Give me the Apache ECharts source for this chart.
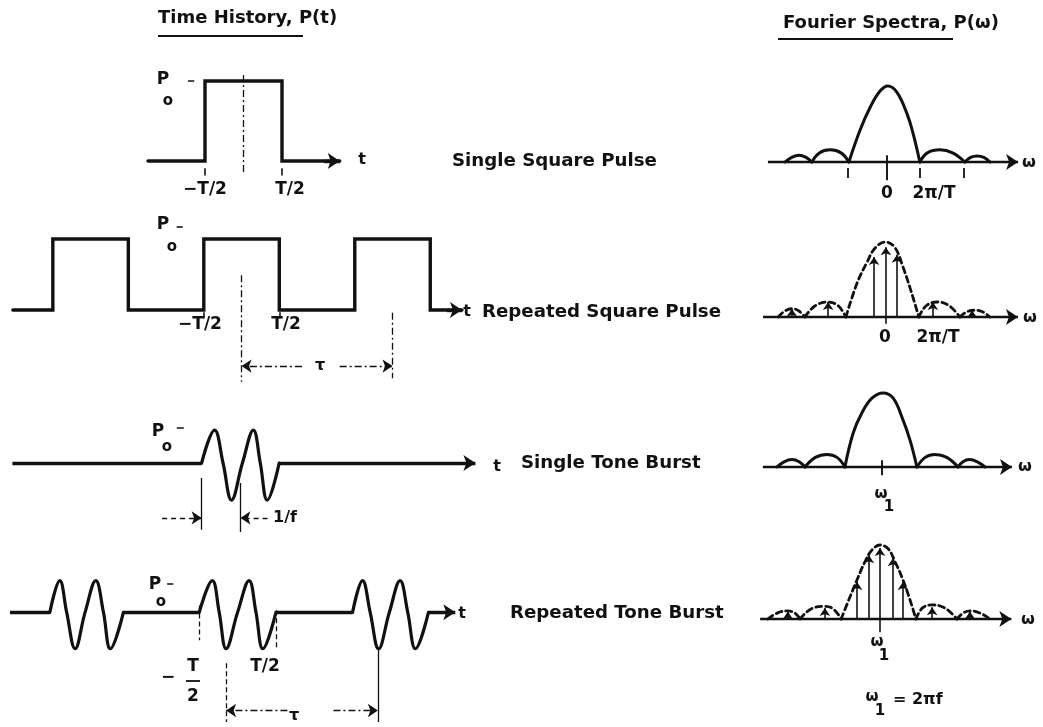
<!DOCTYPE html>
<html><head><meta charset="utf-8">
<script src="https://cdn.jsdelivr.net/npm/echarts@6/dist/echarts.min.js"></script>
<style>html,body{margin:0;padding:0;background:#fff}#c{width:1043px;height:727px}</style>
</head><body><div id="c"></div>
<script>
// ================= DATA =================
// Labels
const panelTitles = ['Time History, P(t)', 'Fourier Spectra, P(\u03c9)'];
const rowNames = ['Single Square Pulse', 'Repeated Square Pulse', 'Single Tone Burst', 'Repeated Tone Burst'];
const timeTickLabels = ['\u2212T/2', 'T/2'];
const freqTickLabels = ['0', '2\u03c0/T'];

// Time histories: t in units of T, amplitude in units of Po
const singlePulse = [[-1.24,0],[-0.5,0],[-0.5,1],[0.5,1],[0.5,0],[1.25,0]];
const pulseEdges = [-0.5, 0.5];
const repeatedPulse = [[-3.03,0],[-2.5,0],[-2.5,1],[-1.5,1],[-1.5,0],[-0.5,0],[-0.5,1],[0.5,1],[0.5,0],[1.5,0],[1.5,1],[2.5,1],[2.5,0],[2.92,0]];
const repeatedPulsePeriod = 2.0;
const singleBurst = [[-0.5,0],[-0.333,0.94],[-0.224,0],[-0.115,-1.06],[0.026,0],[0.167,0.94],[0.256,0],[0.346,-1.06],[0.5,0]];
const singleBurstBaseline = [[-2.94,-0.5],[0.5,3.03]];
const burstCycle = 0.5; // 1/f in units of T
const repeatedBursts = [
  [[-2.45,0],[-2.32,0.94],[-2.23,0],[-2.12,-1.08],[-1.99,0],[-1.85,0.94],[-1.75,0],[-1.66,-1.08],[-1.49,0]],
  [[-0.5,0],[-0.33,0.94],[-0.24,0],[-0.15,-1.08],[0,0],[0.15,0.94],[0.24,0],[0.33,-1.08],[0.5,0]],
  [[1.5,0],[1.63,0.94],[1.73,0],[1.84,-1.08],[1.98,0],[2.12,0.94],[2.22,0],[2.32,-1.08],[2.49,0]]
];
const repeatedBurstBaseline = [[-2.97,-2.45],[-1.49,-0.5],[0.5,1.5],[2.49,2.84]];
const repeatedBurstPeriod = [-0.15, 1.83];

// Fourier spectra: omega in units of 2pi/T, amplitude normalised to the peak
const spec1Lobes = [
  [[-2.8,0],[-2.62,0.06],[-2.42,0.09],[-2.22,0.06],[-2.06,0]],
  [[-2.06,0],[-1.85,0.12],[-1.55,0.16],[-1.25,0.12],[-1.03,0]],
  [[-1.03,0],[-0.72,0.42],[-0.44,0.72],[-0.17,0.93],[0.05,1],[0.3,0.92],[0.58,0.64],[0.75,0.38],[0.94,0]],
  [[0.94,0],[1.15,0.12],[1.5,0.16],[1.85,0.12],[2.19,0]],
  [[2.19,0],[2.35,0.06],[2.53,0.08],[2.72,0.06],[2.89,0]]
];
const spec1Ticks = [-1.06, 0.94, 2.17];
const spec2Envelope = [
  [[-2.9,0],[-2.72,0.08],[-2.53,0.11],[-2.34,0.08],[-2.18,0]],
  [[-2.18,0],[-1.9,0.15],[-1.55,0.2],[-1.28,0.15],[-1.07,0]],
  [[-1.07,0],[-0.77,0.45],[-0.5,0.73],[-0.28,0.92],[0,1],[0.26,0.92],[0.47,0.67],[0.7,0.33],[0.9,0]],
  [[0.9,0],[1.1,0.15],[1.4,0.2],[1.72,0.15],[2.01,0]],
  [[2.01,0],[2.2,0.07],[2.4,0.09],[2.62,0.07],[2.82,0]]
];
const spec2Lines = [[-2.53,0.11],[-1.55,0.2],[-0.31,0.8],[0.01,0.93],[0.31,0.83],[1.28,0.2],[2.34,0.09]];
const spec3Lobes = [
  [[-2.92,0],[-2.72,0.07],[-2.5,0.1],[-2.3,0.07],[-2.14,0]],
  [[-2.14,0],[-1.85,0.13],[-1.53,0.17],[-1.25,0.13],[-1.03,0]],
  [[-1.03,0],[-0.8,0.46],[-0.56,0.73],[-0.28,0.93],[0.03,1],[0.31,0.93],[0.58,0.64],[0.78,0.36],[0.97,0]],
  [[0.97,0],[1.2,0.13],[1.47,0.17],[1.8,0.13],[2.11,0]],
  [[2.11,0],[2.25,0.07],[2.42,0.1],[2.65,0.07],[2.86,0]]
];
const spec4Envelope = [
  [[-3.03,0],[-2.78,0.08],[-2.49,0.11],[-2.3,0.08],[-2.16,0]],
  [[-2.16,0],[-1.85,0.14],[-1.49,0.17],[-1.25,0.13],[-1.05,0]],
  [[-1.05,0],[-0.81,0.3],[-0.62,0.53],[-0.41,0.77],[-0.22,0.93],[0,1],[0.22,0.95],[0.41,0.77],[0.62,0.53],[0.81,0.26],[0.97,0]],
  [[0.97,0],[1.15,0.15],[1.41,0.19],[1.75,0.15],[2.08,0]],
  [[2.08,0],[2.25,0.08],[2.43,0.11],[2.7,0.08],[2.97,0]]
];
const spec4Lines = [[-2.49,0.1],[-1.49,0.15],[-0.62,0.5],[-0.3,0.86],[0,0.96],[0.35,0.82],[0.62,0.5],[1.41,0.16],[2.43,0.1]];

// ================= DRAWING =================
const INK = '#111';
const FONT = '"DejaVu Sans", sans-serif';
const grids = [], xAxes = [], yAxes = [], series = [];
function addPanel(cx, sx, xr, by, sy, yr) {
  const i = grids.length;
  grids.push({left: cx + sx * xr[0], top: by - sy * yr[1], width: sx * (xr[1] - xr[0]), height: sy * (yr[1] - yr[0]), containLabel: false});
  xAxes.push({type: 'value', gridIndex: i, min: xr[0], max: xr[1], show: false});
  yAxes.push({type: 'value', gridIndex: i, min: yr[0], max: yr[1], show: false});
  return i;
}
function curve(g, data, o) {
  o = o || {};
  series.push({type: 'line', xAxisIndex: g, yAxisIndex: g, data: data, smooth: o.smooth || false,
    symbol: 'none', clip: false, silent: true, animation: false, z: 3,
    lineStyle: {color: INK, width: o.width || 3, type: o.type || 'solid', cap: 'round', join: o.join || 'round'}});
}
function segs(g, items, o) {
  o = o || {};
  series.push({type: 'lines', coordinateSystem: 'cartesian2d', xAxisIndex: g, yAxisIndex: g, silent: true, animation: false, z: 3,
    data: items, symbol: ['none', 'none'], symbolSize: o.symbolSize || [8, 11],
    lineStyle: {color: INK, width: o.width || 2, type: o.type || 'solid', opacity: 1, curveness: 0}});
}
const ARROW_END = ['none', 'arrow'];
const DASHDOT = [7, 3, 2, 3];

// Row 1 time history
const gA = addPanel(243.5, 77, [-3, 3.2], 161, 80, [-0.6, 1.3]);
curve(gA, singlePulse, {width: 3.4, join: 'miter'});
segs(gA, [{coords: [[singlePulse[singlePulse.length - 1][0] - 0.2, 0], [singlePulse[singlePulse.length - 1][0], 0]], symbol: ARROW_END}], {width: 3.4, symbolSize: [9, 12]});
segs(gA, [{coords: [[0, 1.075], [0, -0.15]]}], {width: 1.3, type: DASHDOT});
segs(gA, pulseEdges.map(x => ({coords: [[x, -0.09], [x, -0.18]]})), {width: 1.6});
segs(gA, [{coords: [[-0.72, 1], [-0.64, 1]]}], {width: 1.6});

// Row 2 time history
const gB = addPanel(241.5, 75.5, [-3.2, 3.2], 310, 71, [-1.2, 1.3]);
curve(gB, repeatedPulse, {width: 3.4, join: 'miter'});
segs(gB, [{coords: [[repeatedPulse[repeatedPulse.length - 1][0] - 0.2, 0], [repeatedPulse[repeatedPulse.length - 1][0], 0]], symbol: ARROW_END}], {width: 3.4, symbolSize: [9, 12]});
segs(gB, [{coords: [[0, 0.49], [0, -1.01]]}], {width: 1.3, type: DASHDOT});
segs(gB, [{coords: [[repeatedPulsePeriod, -0.04], [repeatedPulsePeriod, -0.96]]}], {width: 1.3, type: DASHDOT});
segs(gB, pulseEdges.map(x => ({coords: [[x, -0.03], [x, -0.12]]})), {width: 1.6});
segs(gB, [{coords: [[0.8, -0.79], [0, -0.79]], symbol: ARROW_END}, {coords: [[1.3, -0.79], [repeatedPulsePeriod, -0.79]], symbol: ARROW_END}], {width: 1.3, type: DASHDOT, symbolSize: [7, 10]});
segs(gB, [{coords: [[-0.86, 1.17], [-0.78, 1.17]]}], {width: 1.6});

// Row 3 time history
const gC = addPanel(239, 78, [-3.1, 3.2], 463, 35, [-2.3, 1.3]);
curve(gC, singleBurst, {width: 3.2, smooth: 0.4});
segs(gC, singleBurstBaseline.map((s, i) => ({coords: [[s[0], 0], [s[1], 0]], symbol: i === singleBurstBaseline.length - 1 ? ARROW_END : ['none', 'none']})), {width: 3.4, symbolSize: [9, 12]});
segs(gC, [{coords: [[-0.5, -0.43], [-0.5, -1.91]]}, {coords: [[-0.5 + burstCycle, -0.57], [-0.5 + burstCycle, -1.97]]}], {width: 1.3});
segs(gC, [{coords: [[-1.01, -1.57], [-0.5, -1.57]], symbol: ARROW_END}, {coords: [[0.35, -1.57], [-0.5 + burstCycle, -1.57]], symbol: ARROW_END}], {width: 1.3, type: [5, 4], symbolSize: [7, 10]});
segs(gC, [{coords: [[-0.82, 1.0], [-0.73, 1.0]]}], {width: 1.6});

// Row 4 time history
const gD = addPanel(236.5, 77, [-3.1, 3.1], 614, 35, [-3.4, 1.3]);
repeatedBursts.forEach(b => curve(gD, b, {width: 3.2, smooth: 0.4}));
segs(gD, repeatedBurstBaseline.map((s, i) => ({coords: [[s[0], 0], [s[1], 0]], symbol: i === repeatedBurstBaseline.length - 1 ? ARROW_END : ['none', 'none']})), {width: 3.4, symbolSize: [9, 12]});
segs(gD, [{coords: [[-0.5, 0.2], [-0.5, -0.83]]}, {coords: [[0.5, 0.06], [0.5, -1.08]]}, {coords: [[repeatedBurstPeriod[0], -1.51], [repeatedBurstPeriod[0], -3.25]]}], {width: 1.3, type: [5, 3]});
segs(gD, [{coords: [[repeatedBurstPeriod[1], -1.08], [repeatedBurstPeriod[1], -3.25]]}], {width: 1.3});
segs(gD, [{coords: [[0.65, -2.91], [repeatedBurstPeriod[0], -2.91]], symbol: ARROW_END}, {coords: [[1.25, -2.91], [repeatedBurstPeriod[1], -2.91]], symbol: ARROW_END}], {width: 1.3, type: DASHDOT, symbolSize: [7, 10]});
segs(gD, [{coords: [[-0.92, 0.86], [-0.84, 0.86]]}], {width: 1.6});

// Spectra
function spectrumAxis(g, x0, x1) {
  segs(g, [{coords: [[x0, 0], [x1, 0]], symbol: ARROW_END}], {width: 2.4, symbolSize: [8, 12]});
}
const gE = addPanel(886, 36, [-3.5, 3.9], 162, 76, [-0.4, 1.15]);
spectrumAxis(gE, -3.28, 3.67);
spec1Lobes.forEach(l => curve(gE, l, {width: 3, smooth: 0.4}));
segs(gE, spec1Ticks.map(x => ({coords: [[x, -0.08], [x, -0.21]]})), {width: 1.8});
segs(gE, [{coords: [[0.03, 0.09], [0.03, -0.24]]}], {width: 1.9});

const gF = addPanel(885.5, 37, [-3.5, 3.8], 317, 75, [-0.4, 1.15]);
spectrumAxis(gF, -3.31, 3.58);
spec2Envelope.forEach(l => curve(gF, l, {width: 2.8, smooth: 0.4, type: [6, 4]}));
segs(gF, spec2Lines.map(p => ({coords: [[p[0], 0], [p[0], p[1]]], symbol: ARROW_END})), {width: 1.6, symbolSize: [6, 8]});
segs(gF, [{coords: [[0.01, 0], [0.01, -0.09]]}], {width: 1.6});

const gG = addPanel(882, 36, [-3.5, 3.9], 467, 74, [-0.4, 1.15]);
spectrumAxis(gG, -3.31, 3.61);
spec3Lobes.forEach(l => curve(gG, l, {width: 3, smooth: 0.4}));
segs(gG, [{coords: [[0, 0.09], [0, -0.11]]}], {width: 1.9});

const gH = addPanel(880, 37, [-3.5, 3.8], 619, 74, [-0.4, 1.15]);
spectrumAxis(gH, -3.24, 3.55);
spec4Envelope.forEach(l => curve(gH, l, {width: 2.8, smooth: 0.4, type: [6, 4]}));
segs(gH, spec4Lines.map(p => ({coords: [[p[0], 0], [p[0], p[1]]], symbol: ARROW_END})), {width: 1.6, symbolSize: [6, 8]});
segs(gH, [{coords: [[0, 0], [0, -0.18]]}], {width: 1.6});

// Text
function txt(s, x, y, size, align, sx) {
  const el = {type: 'text', x: x, y: y, z: 10, silent: true,
    style: {text: s, font: 'bold ' + size + 'px ' + FONT, fill: INK, align: align || 'center', verticalAlign: 'middle'}};
  if (sx) el.scaleX = sx;
  return el;
}
function uline(x1, x2, y) {
  return {type: 'line', z: 10, silent: true, shape: {x1: x1, y1: y, x2: x2, y2: y}, style: {stroke: INK, lineWidth: 2.2}};
}
const W = '\u03c9';
const graphics = [
  txt(panelTitles[0], 158, 18, 18, 'left'), uline(158, 303, 36),
  txt(panelTitles[1], 783, 23, 18, 'left'), uline(778, 953, 39),
  txt(rowNames[0], 452, 162, 17, 'left', 1.07),
  txt(rowNames[1], 482, 313, 17, 'left', 1.07),
  txt(rowNames[2], 521, 464, 17, 'left', 1.07),
  txt(rowNames[3], 510, 614, 17, 'left', 1.07),
  // row 1
  txt('t', 362, 160, 16), txt('P', 163, 80, 17), txt('o', 168, 101, 15),
  txt(timeTickLabels[0], 205, 190, 17), txt(timeTickLabels[1], 290, 190, 17),
  // row 2
  txt('t', 467, 312, 16), txt('P', 163, 225, 17), txt('o', 172, 247, 15),
  txt(timeTickLabels[0], 200, 325, 17), txt(timeTickLabels[1], 286, 325, 17),
  txt('\u03c4', 320, 366, 16),
  // row 3
  txt('t', 497, 467, 16), txt('P', 158, 432, 17), txt('o', 167, 447, 15),
  txt('1/f', 273, 518, 16, 'left'),
  // row 4
  txt('t', 462, 614, 16), txt('P', 155, 585, 17), txt('o', 161, 602, 15),
  txt('\u2212', 168, 678, 17), txt('T', 193, 667, 17), txt('2', 193, 697, 17),
  {type: 'line', z: 10, silent: true, shape: {x1: 186, y1: 681, x2: 200, y2: 681}, style: {stroke: INK, lineWidth: 1.8}},
  txt(timeTickLabels[1], 265, 667, 17), txt('\u03c4', 294, 716, 16),
  // spectra
  txt(freqTickLabels[0], 887, 194, 17), txt(freqTickLabels[1], 934, 194, 17), txt(W, 1029, 163, 16),
  txt(freqTickLabels[0], 885, 338, 17), txt(freqTickLabels[1], 938, 338, 17), txt(W, 1030, 318, 16),
  txt(W, 881, 494, 15), txt('1', 889, 507, 15), txt(W, 1025, 467, 16),
  txt(W, 877, 642, 15), txt('1', 884, 656, 15), txt(W, 1028, 620, 16),
  txt(W, 872, 697, 15), txt('1', 880, 711, 15), txt('= 2\u03c0f', 893, 700, 16, 'left')
];

const chart = echarts.init(document.getElementById('c'), null, {renderer: 'canvas'});
chart.setOption({
  animation: false,
  backgroundColor: '#ffffff',
  grid: grids, xAxis: xAxes, yAxis: yAxes,
  series: series,
  graphic: graphics
});
</script></body></html>
